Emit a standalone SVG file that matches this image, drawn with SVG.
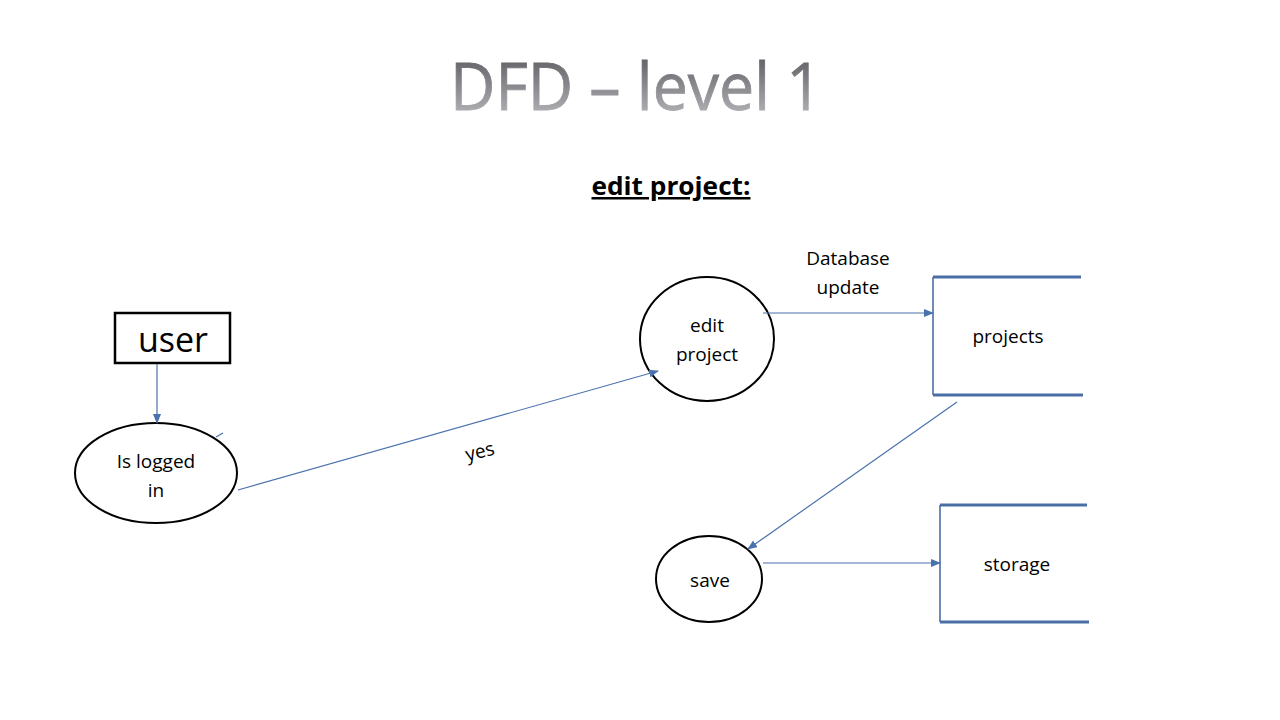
<svg xmlns="http://www.w3.org/2000/svg" width="1280" height="720" viewBox="0 0 1280 720">
<defs>
<linearGradient id="tg" x1="0" y1="0" x2="0" y2="1">
<stop offset="0" stop-color="#48484e"/>
<stop offset="1" stop-color="#c4c4c8"/>
</linearGradient>
<marker id="ah" markerWidth="10" markerHeight="8" refX="9" refY="4" orient="auto" markerUnits="userSpaceOnUse">
<path d="M0,0 L10,4 L0,8 Z" fill="#4a72ad"/>
</marker>
<style>
.lbl{font-family:"Open Sans","Liberation Sans",sans-serif;font-size:19px;fill:#000;text-anchor:middle}
.node{fill:#fff;stroke:#000;stroke-width:2}
.conn{stroke:#4a72ad;stroke-width:1.2;fill:none}
.store{stroke:#4a6fa5;stroke-width:3;fill:none}
.storeL{stroke:#4a6fa5;stroke-width:1.6;fill:none}
</style>
</defs>
<rect width="1280" height="720" fill="#fff"/>
<text x="636" y="110" font-family="'Open Sans','Liberation Sans',sans-serif" font-size="66" fill="url(#tg)" stroke="url(#tg)" stroke-width="0.8" text-anchor="middle" textLength="372" lengthAdjust="spacingAndGlyphs">DFD – level 1</text>
<text x="671" y="195" font-family="'Open Sans','Liberation Sans',sans-serif" font-size="25" font-weight="bold" text-anchor="middle" text-decoration="underline" textLength="159" lengthAdjust="spacingAndGlyphs">edit project:</text>

<g id="user">
<rect x="115" y="313" width="115" height="50" fill="#fff" stroke="#000" stroke-width="2.5"/>
<text x="173" y="352" font-family="'Open Sans','Liberation Sans',sans-serif" font-size="34" text-anchor="middle">user</text>
</g>

<g id="is-logged-in">
<ellipse class="node" cx="156" cy="473" rx="81" ry="50"/>
<text class="lbl" x="156" y="468">Is logged</text>
<text class="lbl" x="156" y="497">in</text>
</g>

<g id="edit-project">
<ellipse class="node" cx="707" cy="339" rx="67" ry="62"/>
<text class="lbl" x="707" y="332">edit</text>
<text class="lbl" x="707" y="361">project</text>
</g>

<g id="projects">
<line class="store" x1="933" y1="277" x2="1081" y2="277"/>
<line class="storeL" x1="933" y1="277" x2="933" y2="395"/>
<line class="store" x1="933" y1="395" x2="1083" y2="395"/>
<text class="lbl" x="1008" y="343">projects</text>
</g>

<g id="save">
<ellipse class="node" cx="709" cy="579" rx="53" ry="43"/>
<text class="lbl" x="710" y="587">save</text>
</g>

<g id="storage">
<line class="store" x1="940" y1="505" x2="1087" y2="505"/>
<line class="storeL" x1="940" y1="505" x2="940" y2="622"/>
<line class="store" x1="940" y1="622" x2="1089" y2="622"/>
<text class="lbl" x="1017" y="571">storage</text>
</g>

<g id="connectors">
<line class="conn" x1="157" y1="364" x2="157" y2="423" marker-end="url(#ah)"/>
<line class="conn" x1="238" y1="490" x2="658" y2="371" marker-end="url(#ah)"/>
<line class="conn" x1="763" y1="313" x2="933" y2="313" marker-end="url(#ah)"/>
<line class="conn" x1="957" y1="402" x2="748" y2="549" marker-end="url(#ah)"/>
<line class="conn" x1="763" y1="563" x2="940" y2="563" marker-end="url(#ah)"/>
<line class="conn" x1="216" y1="437" x2="223" y2="433"/>
<text class="lbl" x="480" y="458" transform="rotate(-14 480 452)">yes</text>
<text class="lbl" x="848" y="265">Database</text>
<text class="lbl" x="848" y="294">update</text>
</g>
</svg>
